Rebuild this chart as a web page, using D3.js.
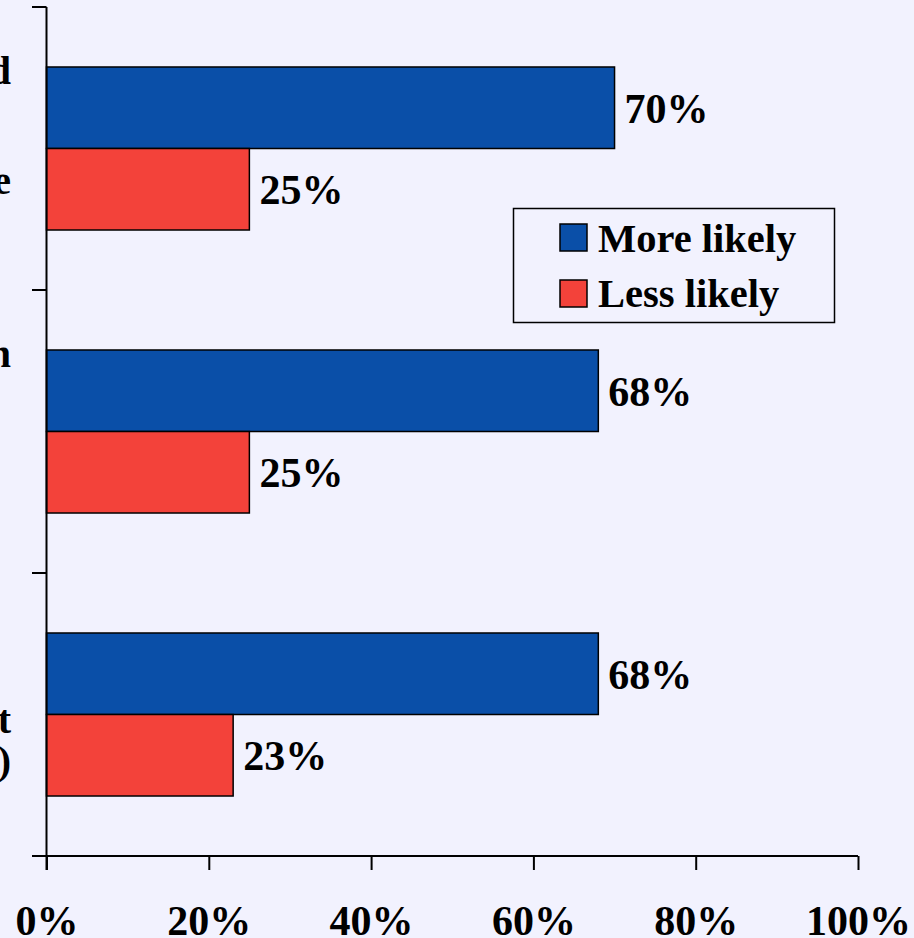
<!DOCTYPE html>
<html><head><meta charset="utf-8">
<script src="https://cdn.jsdelivr.net/npm/d3@7"></script>
<style>
html,body{margin:0;padding:0;background:#F2F2FE;}
svg{display:block;}
text{font-family:"Liberation Serif","Times New Roman",serif;font-weight:bold;fill:#000;}
</style></head>
<body>
<svg id="c" width="914" height="938"></svg>
<script>
// Data
const categories = ["Group A", "Group B", "Group C"];
const categoryLines = [["Expanded", "Medicare"], ["Children"], ["Cost", "(CHIP)"]];
const series = ["More likely", "Less likely"];
const moreLikely = [70, 68, 68];
const lessLikely = [25, 25, 23];
const xTicks = [0, 20, 40, 60, 80, 100];
const colors = ["#0A4FA8", "#F3423A"];

const svg = d3.select("#c");
const x = d3.scaleLinear().domain([0, 100]).range([46.5, 858]);
const y = d3.scaleBand().domain(categories).range([7, 856]).paddingInner(0).paddingOuter(0);
const y1 = d3.scaleBand().domain(series).range([0, y.bandwidth()]).paddingInner(0).paddingOuter(0.736);

const data = categories.map((c, i) => ({cat: c, vals: [moreLikely[i], lessLikely[i]]}));

// bars
const g = svg.append("g");
data.forEach((d) => {
  series.forEach((s, j) => {
    const v = d.vals[j];
    const yy = y(d.cat) + y1(s);
    g.append("rect")
      .attr("x", x(0)).attr("y", yy)
      .attr("width", x(v) - x(0)).attr("height", y1.bandwidth())
      .attr("fill", colors[j]).attr("stroke", "#000").attr("stroke-width", 1.5);
    g.append("text")
      .attr("x", x(v) + 10).attr("y", yy + y1.bandwidth() / 2 + 15)
      .attr("font-size", 42)
      .text(v + "%");
  });
});

// x axis
const xAxis = d3.axisBottom(x).tickValues(xTicks).tickSize(14).tickFormat(d => d + "%");
const xg = svg.append("g").attr("transform", `translate(0,${y.range()[1]})`).call(xAxis);
xg.select(".domain").attr("stroke", "#000").attr("stroke-width", 2).attr("d", `M32,0H${x(100)}`);
xg.selectAll(".tick line").attr("stroke", "#000").attr("stroke-width", 2);
xg.selectAll(".tick text").attr("font-size", 42).attr("font-family", '"Liberation Serif","Times New Roman",serif')
  .attr("font-weight", "bold").attr("fill", "#000").attr("dy", "0").attr("y", 79);

// y axis
const boundaries = categories.map(c => y(c)).concat([y.range()[1]]);
const yg = svg.append("g");
yg.append("line").attr("x1", x(0)).attr("x2", x(0)).attr("y1", boundaries[0]).attr("y2", y.range()[1] + 14)
  .attr("stroke", "#000").attr("stroke-width", 2);
boundaries.forEach(b => {
  yg.append("line").attr("x1", 32).attr("x2", x(0)).attr("y1", b).attr("y2", b).attr("stroke", "#000").attr("stroke-width", 2);
});

// category labels (clipped at the left edge, as in the reference)
const labelOffsets = [[-65, 45], [-65], [18, 59]];
categoryLines.forEach((lines, i) => {
  const c = y(categories[i]) + y.bandwidth() / 2;
  lines.forEach((t, k) => {
    svg.append("text").attr("x", 11).attr("y", c + labelOffsets[i][k])
      .attr("text-anchor", "end").attr("font-size", 40).text(t);
  });
});

// legend
const lg = svg.append("g");
lg.append("rect").attr("x", 513.5).attr("y", 208.5).attr("width", 321).attr("height", 114)
  .attr("fill", "#F2F2FE").attr("stroke", "#000").attr("stroke-width", 1.5);
series.forEach((s, j) => {
  lg.append("rect").attr("x", 560).attr("y", 224 + j * 56).attr("width", 27).attr("height", 27)
    .attr("fill", colors[j]).attr("stroke", "#000").attr("stroke-width", 1.5);
  lg.append("text").attr("x", 598).attr("y", 252 + j * 55).attr("font-size", 40.5).text(s);
});
</script>
</body></html>
